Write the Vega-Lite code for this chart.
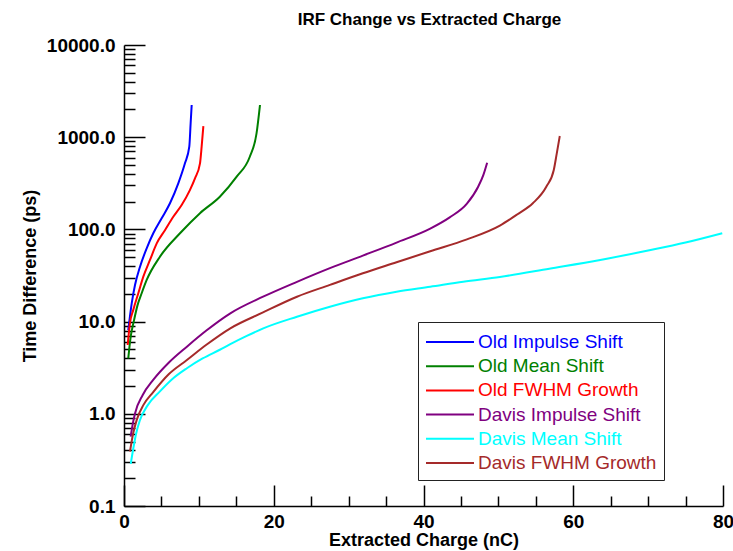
{
 "$schema": "https://vega.github.io/schema/vega-lite/v6.json",
 "width": 599, "height": 461,
 "autosize": {"type": "none"},
 "padding": {"left": 124, "top": 45, "right": 10, "bottom": 45},
 "title": {"text": "IRF Change vs Extracted Charge", "fontSize": 17, "font": "Liberation Sans", "fontWeight": "bold", "color": "black", "anchor": "middle", "offset": 7, "dx": 6},
 "config": {"view": {"stroke": null}, "font": "Liberation Sans"},
 "datasets": {
  "d": [
   {"s":"Old Impulse Shift","x":0.57,"y":8.1},
   {"s":"Old Impulse Shift","x":1.03,"y":15.8},
   {"s":"Old Impulse Shift","x":1.47,"y":24.9},
   {"s":"Old Impulse Shift","x":2.14,"y":39.4},
   {"s":"Old Impulse Shift","x":3.03,"y":62.4},
   {"s":"Old Impulse Shift","x":3.91,"y":90.8},
   {"s":"Old Impulse Shift","x":5.03,"y":132},
   {"s":"Old Impulse Shift","x":6.14,"y":192},
   {"s":"Old Impulse Shift","x":7.25,"y":316},
   {"s":"Old Impulse Shift","x":8.14,"y":521},
   {"s":"Old Impulse Shift","x":8.72,"y":789},
   {"s":"Old Impulse Shift","x":8.9,"y":1416},
   {"s":"Old Impulse Shift","x":9.04,"y":2234},
   {"s":"Old Mean Shift","x":0.57,"y":4.0},
   {"s":"Old Mean Shift","x":0.9,"y":6.9},
   {"s":"Old Mean Shift","x":1.3,"y":10.0},
   {"s":"Old Mean Shift","x":1.8,"y":15.0},
   {"s":"Old Mean Shift","x":2.36,"y":20.3},
   {"s":"Old Mean Shift","x":3.03,"y":28.3},
   {"s":"Old Mean Shift","x":4.8,"y":50.6},
   {"s":"Old Mean Shift","x":7.48,"y":90.8},
   {"s":"Old Mean Shift","x":10.15,"y":150},
   {"s":"Old Mean Shift","x":12.8,"y":226},
   {"s":"Old Mean Shift","x":15.05,"y":373},
   {"s":"Old Mean Shift","x":16.8,"y":614},
   {"s":"Old Mean Shift","x":17.7,"y":1100},
   {"s":"Old Mean Shift","x":18.16,"y":2234},
   {"s":"Old FWHM Growth","x":0.49,"y":5.57},
   {"s":"Old FWHM Growth","x":0.8,"y":9.7},
   {"s":"Old FWHM Growth","x":1.24,"y":13.4},
   {"s":"Old FWHM Growth","x":1.91,"y":20.3},
   {"s":"Old FWHM Growth","x":2.58,"y":30.7},
   {"s":"Old FWHM Growth","x":3.47,"y":46.6},
   {"s":"Old FWHM Growth","x":4.37,"y":70.6},
   {"s":"Old FWHM Growth","x":5.47,"y":98},
   {"s":"Old FWHM Growth","x":6.58,"y":137},
   {"s":"Old FWHM Growth","x":7.7,"y":184},
   {"s":"Old FWHM Growth","x":8.8,"y":267},
   {"s":"Old FWHM Growth","x":9.48,"y":358},
   {"s":"Old FWHM Growth","x":10.15,"y":521},
   {"s":"Old FWHM Growth","x":10.37,"y":789},
   {"s":"Old FWHM Growth","x":10.6,"y":1321},
   {"s":"Davis Impulse Shift","x":0.89,"y":0.565},
   {"s":"Davis Impulse Shift","x":1.2,"y":0.8},
   {"s":"Davis Impulse Shift","x":1.47,"y":1.01},
   {"s":"Davis Impulse Shift","x":2.5,"y":1.6},
   {"s":"Davis Impulse Shift","x":3.9,"y":2.33},
   {"s":"Davis Impulse Shift","x":6.0,"y":3.6},
   {"s":"Davis Impulse Shift","x":8.4,"y":5.35},
   {"s":"Davis Impulse Shift","x":11.0,"y":8.0},
   {"s":"Davis Impulse Shift","x":14.2,"y":12.3},
   {"s":"Davis Impulse Shift","x":18.5,"y":18.5},
   {"s":"Davis Impulse Shift","x":23.1,"y":27},
   {"s":"Davis Impulse Shift","x":27.5,"y":38},
   {"s":"Davis Impulse Shift","x":31.9,"y":52},
   {"s":"Davis Impulse Shift","x":36.4,"y":72},
   {"s":"Davis Impulse Shift","x":40.9,"y":102},
   {"s":"Davis Impulse Shift","x":43.5,"y":135},
   {"s":"Davis Impulse Shift","x":45.8,"y":190},
   {"s":"Davis Impulse Shift","x":47.3,"y":290},
   {"s":"Davis Impulse Shift","x":48.0,"y":390},
   {"s":"Davis Impulse Shift","x":48.5,"y":528},
   {"s":"Davis Mean Shift","x":0.9,"y":0.286},
   {"s":"Davis Mean Shift","x":1.24,"y":0.42},
   {"s":"Davis Mean Shift","x":1.6,"y":0.6},
   {"s":"Davis Mean Shift","x":2.1,"y":0.84},
   {"s":"Davis Mean Shift","x":3.2,"y":1.25},
   {"s":"Davis Mean Shift","x":4.8,"y":1.75},
   {"s":"Davis Mean Shift","x":6.5,"y":2.4},
   {"s":"Davis Mean Shift","x":8.4,"y":3.12},
   {"s":"Davis Mean Shift","x":10.5,"y":3.98},
   {"s":"Davis Mean Shift","x":12.8,"y":4.95},
   {"s":"Davis Mean Shift","x":14.2,"y":5.7},
   {"s":"Davis Mean Shift","x":16.4,"y":7.0},
   {"s":"Davis Mean Shift","x":18.6,"y":8.45},
   {"s":"Davis Mean Shift","x":23.1,"y":11.3},
   {"s":"Davis Mean Shift","x":27.5,"y":14.5},
   {"s":"Davis Mean Shift","x":31.9,"y":17.9},
   {"s":"Davis Mean Shift","x":36.4,"y":21.1},
   {"s":"Davis Mean Shift","x":40.9,"y":23.9},
   {"s":"Davis Mean Shift","x":45.3,"y":27.1},
   {"s":"Davis Mean Shift","x":50.2,"y":30.5},
   {"s":"Davis Mean Shift","x":56.8,"y":37.5},
   {"s":"Davis Mean Shift","x":63.6,"y":46.6},
   {"s":"Davis Mean Shift","x":70,"y":59},
   {"s":"Davis Mean Shift","x":75,"y":72},
   {"s":"Davis Mean Shift","x":79.9,"y":90.8},
   {"s":"Davis FWHM Growth","x":0.8,"y":0.39},
   {"s":"Davis FWHM Growth","x":1.2,"y":0.6},
   {"s":"Davis FWHM Growth","x":1.7,"y":0.86},
   {"s":"Davis FWHM Growth","x":2.6,"y":1.25},
   {"s":"Davis FWHM Growth","x":3.9,"y":1.72},
   {"s":"Davis FWHM Growth","x":6.0,"y":2.7},
   {"s":"Davis FWHM Growth","x":8.4,"y":3.83},
   {"s":"Davis FWHM Growth","x":11.0,"y":5.6},
   {"s":"Davis FWHM Growth","x":14.2,"y":8.45},
   {"s":"Davis FWHM Growth","x":18.5,"y":12.5},
   {"s":"Davis FWHM Growth","x":23.1,"y":18.6},
   {"s":"Davis FWHM Growth","x":27.5,"y":25},
   {"s":"Davis FWHM Growth","x":31.9,"y":33.4},
   {"s":"Davis FWHM Growth","x":36.4,"y":44},
   {"s":"Davis FWHM Growth","x":40.9,"y":58},
   {"s":"Davis FWHM Growth","x":45.8,"y":78},
   {"s":"Davis FWHM Growth","x":50.2,"y":110},
   {"s":"Davis FWHM Growth","x":52.5,"y":145},
   {"s":"Davis FWHM Growth","x":54.6,"y":192},
   {"s":"Davis FWHM Growth","x":56.4,"y":290},
   {"s":"Davis FWHM Growth","x":57.4,"y":441},
   {"s":"Davis FWHM Growth","x":57.8,"y":668},
   {"s":"Davis FWHM Growth","x":58.2,"y":1030}
  ]
 },
 "data": {"name": "d"},
 "mark": {"type": "line", "strokeWidth": 2, "interpolate": "monotone"},
 "encoding": {
  "x": {"field": "x", "type": "quantitative", "scale": {"domain": [0, 80], "nice": false},
   "axis": {"title": "Extracted Charge (nC)", "values": [0,5,10,15,20,25,30,35,40,45,50,55,60,65,70,75,80],
    "labelExpr": "datum.value % 20 == 0 ? format(datum.value, 'd') : ''",
    "tickSize": {"condition": {"test": "datum.value % 20 == 0", "value": -21}, "value": -10},
    "grid": false, "domainColor": "black", "domainWidth": 1.5, "tickColor": "black", "tickWidth": 1.5,
    "labelFontSize": 19, "labelFontWeight": "bold", "labelColor": "black", "labelPadding": 27, "labelFlush": false, "labelOverlap": false,
    "titleFontSize": 18, "titleFontWeight": "bold", "titleColor": "black", "titlePadding": -11}},
  "y": {"field": "y", "type": "quantitative", "scale": {"type": "log", "domain": [0.1, 10000], "nice": false},
   "axis": {"title": "Time Difference (ps)",
    "values": [0.1,0.2,0.3,0.4,0.5,0.6,0.7,0.8,0.9,1,2,3,4,5,6,7,8,9,10,20,30,40,50,60,70,80,90,100,200,300,400,500,600,700,800,900,1000,2000,3000,4000,5000,6000,7000,8000,9000,10000],
    "labelExpr": "abs(log(datum.value)/LN10 - round(log(datum.value)/LN10)) < 0.001 ? format(datum.value, '.1f') : ''",
    "tickSize": {"condition": {"test": "abs(log(datum.value)/LN10 - round(log(datum.value)/LN10)) < 0.001", "value": -21}, "value": -11},
    "grid": false, "domainColor": "black", "domainWidth": 1.5, "tickColor": "black", "tickWidth": 1.5,
    "labelFontSize": 19, "labelFontWeight": "bold", "labelColor": "black", "labelPadding": 30, "labelFlush": false, "labelOverlap": false,
    "titleFontSize": 18, "titleFontWeight": "bold", "titleColor": "black", "titlePadding": 7}},
  "color": {"field": "s", "type": "nominal",
   "scale": {"domain": ["Old Impulse Shift","Old Mean Shift","Old FWHM Growth","Davis Impulse Shift","Davis Mean Shift","Davis FWHM Growth"],
    "range": ["#0000ff","#008000","#ff0000","#800080","#00ffff","#a52a2a"]},
   "legend": {"orient": "none", "legendX": 294, "legendY": 277, "title": null, "symbolType": "M-1,0H3", "symbolSize": 576, "symbolStrokeWidth": 2,
    "labelFontSize": 19, "labelFont": "Liberation Sans", "labelOffset": 27, "rowPadding": 1.2, "padding": 7, "strokeColor": "#222222", "fillColor": "white", "labelLimit": 300,
    "encode": {"labels": {"update": {"fill": {"scale": "color", "field": "value"}}}}}}
 }
}
